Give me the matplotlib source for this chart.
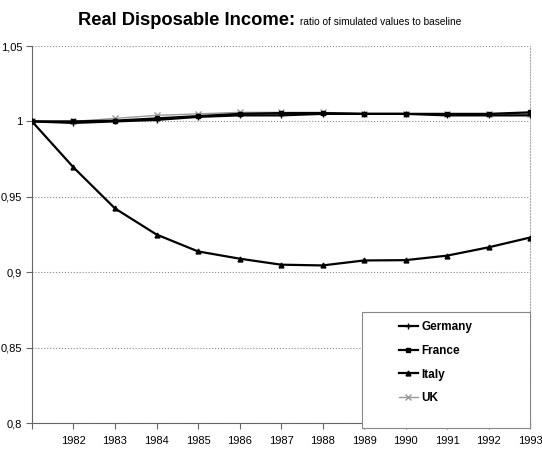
import matplotlib.pyplot as plt
from matplotlib.ticker import FuncFormatter
from matplotlib.patches import Rectangle

years = list(range(1981, 1994))
germany = [1.0, 0.999, 1.0, 1.001, 1.003, 1.004, 1.004, 1.005, 1.005, 1.005, 1.004, 1.004, 1.004]
france = [1.0, 1.0, 1.0005, 1.002, 1.0035, 1.005, 1.0055, 1.0055, 1.005, 1.005, 1.005, 1.005, 1.006]
italy = [1.0, 0.9695, 0.9423, 0.925, 0.9138, 0.909, 0.905, 0.9045, 0.9078, 0.908, 0.911, 0.9165, 0.923]
uk = [1.0, 1.0, 1.002, 1.004, 1.005, 1.006, 1.006, 1.006, 1.005, 1.005, 1.005, 1.005, 1.005]

plt.rcParams['font.family'] = ['Liberation Sans', 'DejaVu Sans']

fig = plt.figure(figsize=(5.42, 4.51), dpi=100)
ax = fig.add_axes([0.059, 0.062, 0.919, 0.836])

ax.plot(years, uk, color='#999999', lw=1, marker='x', ms=4, mew=1, label='UK', zorder=2)
ax.plot(years, germany, color='black', lw=1.6, marker='+', ms=4, label='Germany', zorder=3)
ax.plot(years, france, color='black', lw=1.6, marker='s', ms=3, label='France', zorder=3)
ax.plot(years, italy, color='black', lw=1.6, marker='^', ms=3.5, label='Italy', zorder=3)

ax.set_xlim(1981, 1993)
ax.set_ylim(0.8, 1.05)
ax.set_xticks(years)
ax.set_xticklabels([''] + [str(y) for y in years[1:]])
ax.set_yticks([0.8, 0.85, 0.9, 0.95, 1.0, 1.05])
ax.yaxis.set_major_formatter(FuncFormatter(lambda v, p: ('%g' % round(v, 2)).replace('.', ',')))
ax.tick_params(axis='both', labelsize=8, length=4, color='#666666', direction='out')
ax.tick_params(axis='x', pad=5)
ax.tick_params(axis='y', pad=3)
ax.grid(axis='y', ls=':', color='#888888', lw=0.8)

ax.spines['top'].set_visible(False)
ax.spines['right'].set_linestyle(':')
ax.spines['right'].set_color('#aaaaaa')
ax.spines['left'].set_color('#666666')
ax.spines['bottom'].set_color('#666666')

# legend box
box = Rectangle((0.668, 0.051), 0.310, 0.257, transform=fig.transFigure,
                facecolor='white', edgecolor='#888888', lw=0.8, zorder=5)
fig.patches.append(box)

handles, labels = ax.get_legend_handles_labels()
order = [1, 2, 3, 0]
leg = fig.legend([handles[i] for i in order], [labels[i] for i in order],
                 loc='center left', bbox_to_anchor=(0.725, 0.196), frameon=False,
                 prop={'weight': 'bold', 'size': 8.5},
                 borderpad=0, labelspacing=1.0, handlelength=1.6, handletextpad=0.3)
leg.set_zorder(6)

fig.text(0.545, 0.945, 'Real Disposable Income:', fontsize=13.2, fontweight='bold', ha='right', va='baseline')
fig.text(0.553, 0.945, 'ratio of simulated values to baseline', fontsize=7.3, ha='left', va='baseline')

fig.savefig('out.png', dpi=100)
